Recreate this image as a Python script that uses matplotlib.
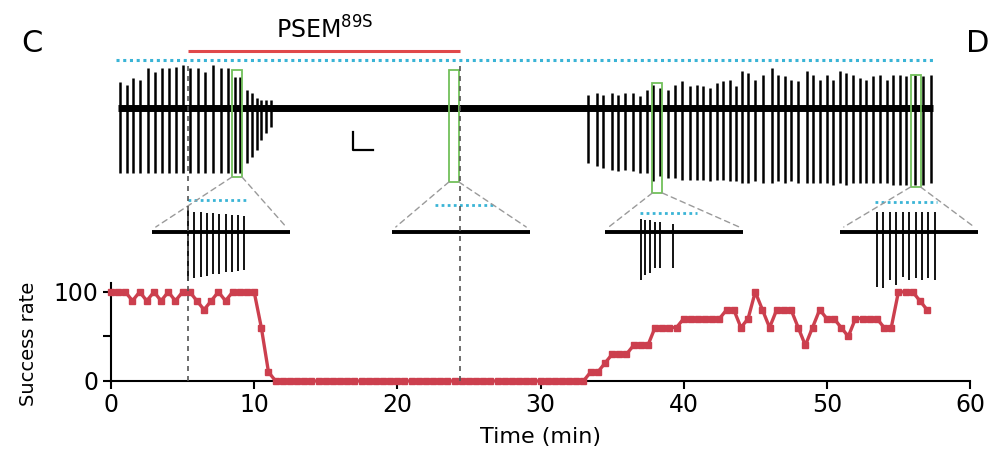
import matplotlib
matplotlib.use("Agg")
import matplotlib.pyplot as plt
import matplotlib.transforms as mtransforms
from matplotlib.patches import Rectangle, ConnectionPatch
from matplotlib.lines import Line2D

plt.rcParams['font.family'] = ['DejaVu Sans']

# ---------------- data ----------------
# success rate (%) of each 10-pulse train, one train every 30 s
rate_interval_min = 0.5
success_rate = [
    100, 100, 100, 90, 100, 90, 100, 90, 100, 90,
    100, 100, 90, 80, 90, 100, 90, 100, 100, 100,
    100, 60, 10,
    0, 0, 0, 0, 0, 0, 0, 0, 0, 0, 0,
    0, 0, 0, 0, 0, 0, 0, 0, 0, 0, 0,
    0, 0, 0, 0, 0, 0, 0, 0, 0, 0, 0,
    0, 0, 0, 0, 0, 0, 0, 0, 0, 0, 0,
    10, 10, 20, 30, 30, 30, 40, 40, 40, 60,
    60, 60, 60, 70, 70, 70, 70, 70, 70, 80,
    80, 60, 70, 100, 80, 60, 80, 80, 80, 60,
    40, 60, 80, 70, 70, 60, 50, 70, 70, 70,
    70, 60, 60, 100, 100, 100, 90, 80,
]
rate_time = [i * rate_interval_min for i in range(len(success_rate))]

# drug application window (min)
drug_on, drug_off = 5.4, 24.4
recording_span = (0.35, 57.5)

# compressed recording: one vertical deflection per train
train_time = [0.6, 1.1, 1.55, 2.05, 2.6, 3.05, 3.55, 4.05, 4.55, 5.05,
              5.5, 6.05, 6.6, 7.1, 7.65, 8.2, 8.65, 9.0, 9.5, 9.85,
              10.2, 10.5, 10.85, 11.2,
              33.33, 33.92, 34.38, 34.96, 35.43, 35.89, 36.48, 36.94, 37.41, 37.87,
              38.34, 38.92, 39.39, 39.85, 40.43, 40.90, 41.36, 41.83, 42.30, 42.76,
              43.23, 43.69, 44.04, 44.51, 44.97, 45.55, 46.14, 46.60, 47.07, 47.53,
              48.00, 48.58, 49.05, 49.51, 49.98, 50.44, 50.91, 51.37, 51.84, 52.30,
              52.77, 53.24, 53.70, 54.17, 54.63, 55.10, 55.56, 56.15, 56.73, 57.31]
train_up = [26, 23, 30, 28, 40, 36, 40, 40, 41, 43,
            40, 40, 36, 43, 40, 40, 31, 31, 18, 15,
            10, 8, 8, 8,
            13, 15, 13, 15, 13, 15, 15, 12, 18, 23,
            20, 18, 23, 27, 22, 23, 22, 20, 25, 27,
            28, 22, 37, 35, 28, 33, 40, 33, 32, 28,
            27, 37, 33, 28, 33, 28, 37, 35, 33, 30,
            28, 32, 33, 28, 33, 33, 32, 33, 32, 33]
train_down = [-65, -65, -65, -65, -65, -65, -65, -65, -65, -65,
              -65, -65, -65, -65, -65, -65, -65, -65, -55, -49,
              -42, -32, -25, -19,
              -55, -58, -60, -62, -63, -62, -63, -65, -65, -73,
              -68, -70, -70, -72, -72, -72, -72, -73, -72, -72,
              -73, -73, -75, -75, -73, -75, -75, -73, -75, -73,
              -75, -75, -75, -75, -75, -77, -75, -77, -75, -75,
              -75, -75, -75, -75, -77, -77, -77, -77, -77, -75]

# highlighted trains (min) and their box extents
box_time = [8.8, 23.95, 38.16, 56.2]
box_top = [38, 38, 25, 33]
box_bottom = [-69, -74, -85, -79]
box_half_width = 0.35

# expanded single trains (s)
inset_spike_time = [
    [0.287, 0.337, 0.387, 0.437, 0.487, 0.537, 0.587, 0.637, 0.687, 0.737],
    [],
    [0.287, 0.319, 0.359, 0.399, 0.438, 0.542],
    [0.295, 0.346, 0.398, 0.449, 0.500, 0.552, 0.603, 0.654, 0.705, 0.757],
]
inset_spike_up = [
    [22, 20, 20, 19, 19, 18, 18, 17, 17, 16],
    [],
    [13, 12, 12, 10, 10, 8],
    [20, 20, 20, 20, 20, 20, 20, 20, 20, 20],
]
inset_spike_down = [
    [-49, -46, -45, -44, -42, -42, -40, -40, -39, -38],
    [],
    [-48, -43, -41, -36, -36, -36],
    [-55, -56, -48, -53, -45, -48, -46, -48, -46, -48],
]
inset_stim = [(0.287, 0.75), (0.34, 0.82), (0.28, 0.73), (0.28, 0.77)]
inset_stim_level = [32, 27, 19, 30]
inset_window = (0.0, 1.1)

# ---------------- figure ----------------
W, H = 999, 462
fig = plt.figure(figsize=(W / 100, H / 100), dpi=100)


def px_axes(x0, y0, x1, y1):
    return fig.add_axes([x0 / W, 1 - y1 / H, (x1 - x0) / W, (y1 - y0) / H])


red = '#cc3f4e'
cyan = '#3ab4d6'
green = '#72c05a'

# success rate panel
ax = px_axes(111, 283, 970, 381)
ax.plot(rate_time, success_rate, color=red, lw=2.4, marker='s', ms=5,
        mfc=red, mec=red, clip_on=False, zorder=3)
ax.set_xlim(0, 60)
ax.set_ylim(0, 110)
for s in ('top', 'right'):
    ax.spines[s].set_visible(False)
for s in ('left', 'bottom'):
    ax.spines[s].set_linewidth(1.5)
ax.set_yticks([0, 50, 100])
ax.set_yticklabels(['0', '', '100'])
ax.set_xticks(range(0, 61, 10))
ax.tick_params(axis='both', length=6, width=1.5, labelsize=17, pad=3)
ax.set_xlabel('Time (min)', fontsize=16, labelpad=7)
ax.set_ylabel('Success rate', fontsize=14)
ax.yaxis.set_label_coords(-0.085, 0.38)

# compressed recording
tr = px_axes(111, 20, 970, 200)
tr.set_xlim(0, 60)
tr.set_ylim(-92, 88)
tr.axis('off')
tr.plot([train_time[0] - 0.1, train_time[-1] + 0.1], [0, 0], color='black',
        lw=5, solid_capstyle='butt', zorder=2)
tr.vlines(train_time, train_down, train_up, color='black', lw=1.8, zorder=2)
tr.plot(recording_span, [48, 48], color=cyan, lw=2.2, ls=(0, (1, 1.2)))
tr.plot([drug_on, drug_off], [57, 57], color='#e0484a', lw=2.2,
        solid_capstyle='butt')
tr.text((drug_on + drug_off) / 2, 64, 'PSEM$^{\\mathregular{89S}}$',
        ha='center', va='bottom', fontsize=17)
# scale bar
tr.plot([16.92, 16.92, 18.3], [-24, -42, -42], color='black', lw=1.6)
for t, top, bot in zip(box_time, box_top, box_bottom):
    tr.add_patch(Rectangle((t - box_half_width, bot), 2 * box_half_width,
                           top - bot, fill=False, ec=green, lw=1.3, zorder=3))

# expanded trains
inset_left = [152, 392, 605, 840]
for k, x0 in enumerate(inset_left):
    ia = px_axes(x0, 195, x0 + 138, 295)
    ia.set_xlim(*inset_window)
    ia.set_ylim(-63, 37)
    ia.axis('off')
    ia.plot(inset_window, [0, 0], color='black', lw=2.8, solid_capstyle='butt')
    if inset_spike_time[k]:
        ia.vlines(inset_spike_time[k], inset_spike_down[k], inset_spike_up[k],
                  color='black', lw=1.3)
    ia.plot(inset_stim[k], [inset_stim_level[k]] * 2, color=cyan, lw=2.0,
            ls=(0, (1, 1.2)))
    for bx, ix in ((box_time[k] - box_half_width, 0.03),
                   (box_time[k] + box_half_width, 1.07)):
        con = ConnectionPatch(xyA=(bx, box_bottom[k]), coordsA=tr.transData,
                              xyB=(ix, 5), coordsB=ia.transData,
                              color='#9a9a9a', lw=1.0, ls=(0, (4, 3)))
        fig.add_artist(con)

# drug on/off markers running through all panels
blend = mtransforms.blended_transform_factory(ax.transData, fig.transFigure)
for t in (drug_on, drug_off):
    fig.add_artist(Line2D([t, t], [1 - 381 / H, 1 - 62 / H], transform=blend,
                          color='#555555', lw=1.2, ls=(0, (3, 3)), zorder=5))

fig.text(32 / W, 1 - 43 / H, 'C', fontsize=22, ha='center', va='center')
fig.text(978 / W, 1 - 43 / H, 'D', fontsize=22, ha='center', va='center')

fig.savefig('out.png', dpi=100)
